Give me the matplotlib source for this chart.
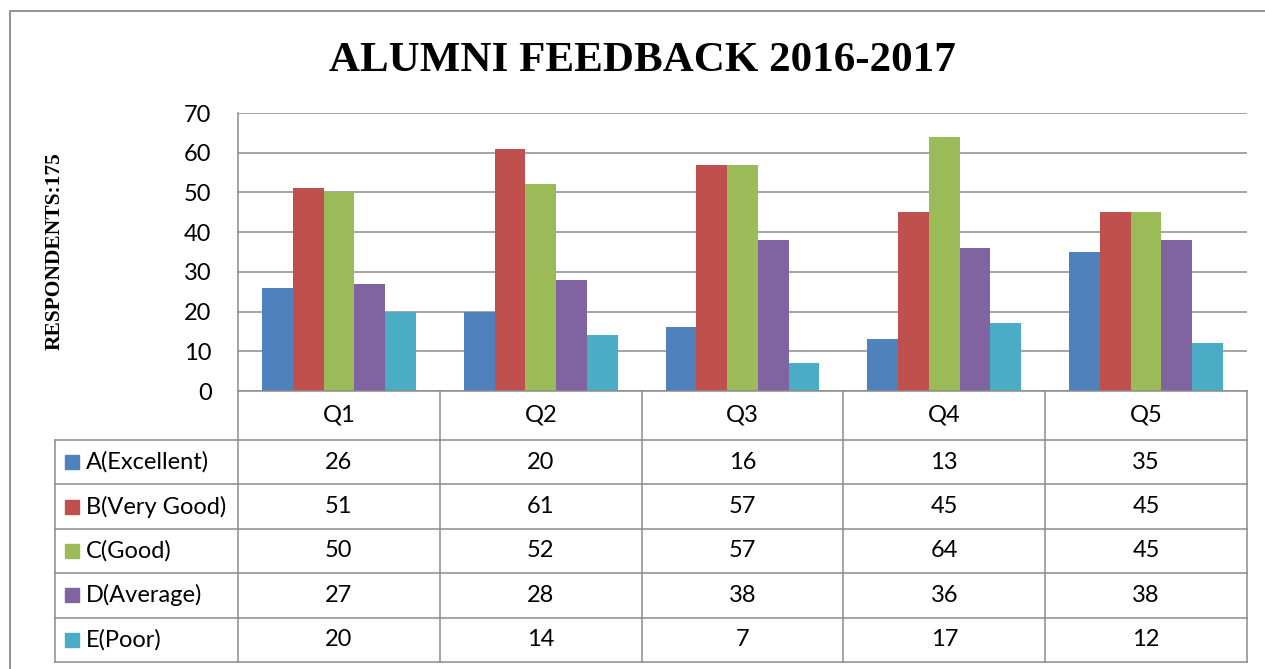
import numpy as np
import matplotlib
matplotlib.use('Agg')
import matplotlib.pyplot as plt
from matplotlib.patches import Rectangle

questions = ['Q1', 'Q2', 'Q3', 'Q4', 'Q5']
series_names = ['A(Excellent)', 'B(Very Good)', 'C(Good)', 'D(Average)', 'E(Poor)']
excellent = [26, 20, 16, 13, 35]
very_good = [51, 61, 57, 45, 45]
good = [50, 52, 57, 64, 45]
average = [27, 28, 38, 36, 38]
poor = [20, 14, 7, 17, 12]
series_values = [excellent, very_good, good, average, poor]
colors = ['#4F81BD', '#C0504D', '#9BBB59', '#8064A2', '#4BACC6']

W, H = 1265, 669
grid_color = '#8C8C8C'
sans = 'Lato'
serif = 'Liberation Serif'
fs = 17


def box(l, t, r, b):
    return [l / W, 1 - b / H, (r - l) / W, (b - t) / H]


fig = plt.figure(figsize=(W / 100, H / 100), dpi=100)

# outer chart frame (right/bottom run off the picture)
fig.patches.append(Rectangle((9.5 / W, -0.1), 1.2, 1.1 - 11 / H,
                             transform=fig.transFigure, fill=False,
                             edgecolor='#8A8A8A', linewidth=1.3))

# bars
ax = fig.add_axes(box(238, 113, 1247, 391))
x = np.arange(len(questions))
bw = 0.1525
for i, (vals, c) in enumerate(zip(series_values, colors)):
    ax.bar(x + (i - 2) * bw, vals, bw, color=c, linewidth=0, zorder=3)

ax.set_xlim(-0.5, len(questions) - 0.5)
ax.set_ylim(0, 70)
ax.set_yticks(np.arange(0, 71, 10))
ax.set_xticks([])
ax.yaxis.grid(True, color=grid_color, linewidth=1.1)
ax.set_axisbelow(True)
for s in ['top', 'right', 'bottom']:
    ax.spines[s].set_visible(False)
ax.spines['left'].set_color(grid_color)
ax.spines['left'].set_linewidth(1.1)
ax.tick_params(axis='y', length=0, pad=19, labelsize=fs)
for lab in ax.get_yticklabels():
    lab.set_fontfamily(sans)

# data table under the chart
tab = fig.add_axes(box(55, 391, 1247, 662))
label_w = 183 / 201.8
edges = [0, 1.1, 2.1, 3.1, 4.1, 5.1, 6.1]
tab.set_xlim(-label_w, len(questions))
tab.set_ylim(edges[-1], 0)
tab.axis('off')

line_kw = dict(color=grid_color, linewidth=1.1, solid_capstyle='projecting', clip_on=False)
tab.plot([0, len(questions)], [0, 0], **line_kw)
for y in edges[1:]:
    tab.plot([-label_w, len(questions)], [y, y], **line_kw)
tab.plot([-label_w, -label_w], [edges[1], edges[-1]], **line_kw)
for j in range(len(questions) + 1):
    tab.plot([j, j], [0, edges[-1]], **line_kw)

for j, q in enumerate(questions):
    tab.text(j + 0.5, edges[1] / 2, q, ha='center', va='center',
             fontsize=fs, family=sans)

for i, (name, vals, c) in enumerate(zip(series_names, series_values, colors)):
    yc = (edges[i + 1] + edges[i + 2]) / 2
    tab.plot(-label_w + 17.5 / 201.8, yc, marker='s', markersize=10.5,
             color=c, clip_on=False)
    tab.text(-label_w + 31 / 201.8, yc, name, ha='left', va='center',
             fontsize=fs, family=sans)
    for j, v in enumerate(vals):
        tab.text(j + 0.5, yc, str(v), ha='center', va='center',
                 fontsize=fs, family=sans)

fig.text(642 / W, 1 - 71 / H, 'ALUMNI FEEDBACK 2016-2017', ha='center',
         va='baseline', fontsize=31, fontweight='bold', family=serif)
fig.text(55 / W, 1 - 251 / H, 'RESPONDENTS:175', rotation=90, ha='center',
         va='center', fontsize=15.5, fontweight='bold', family=serif)

fig.savefig('out.png', dpi=100)
